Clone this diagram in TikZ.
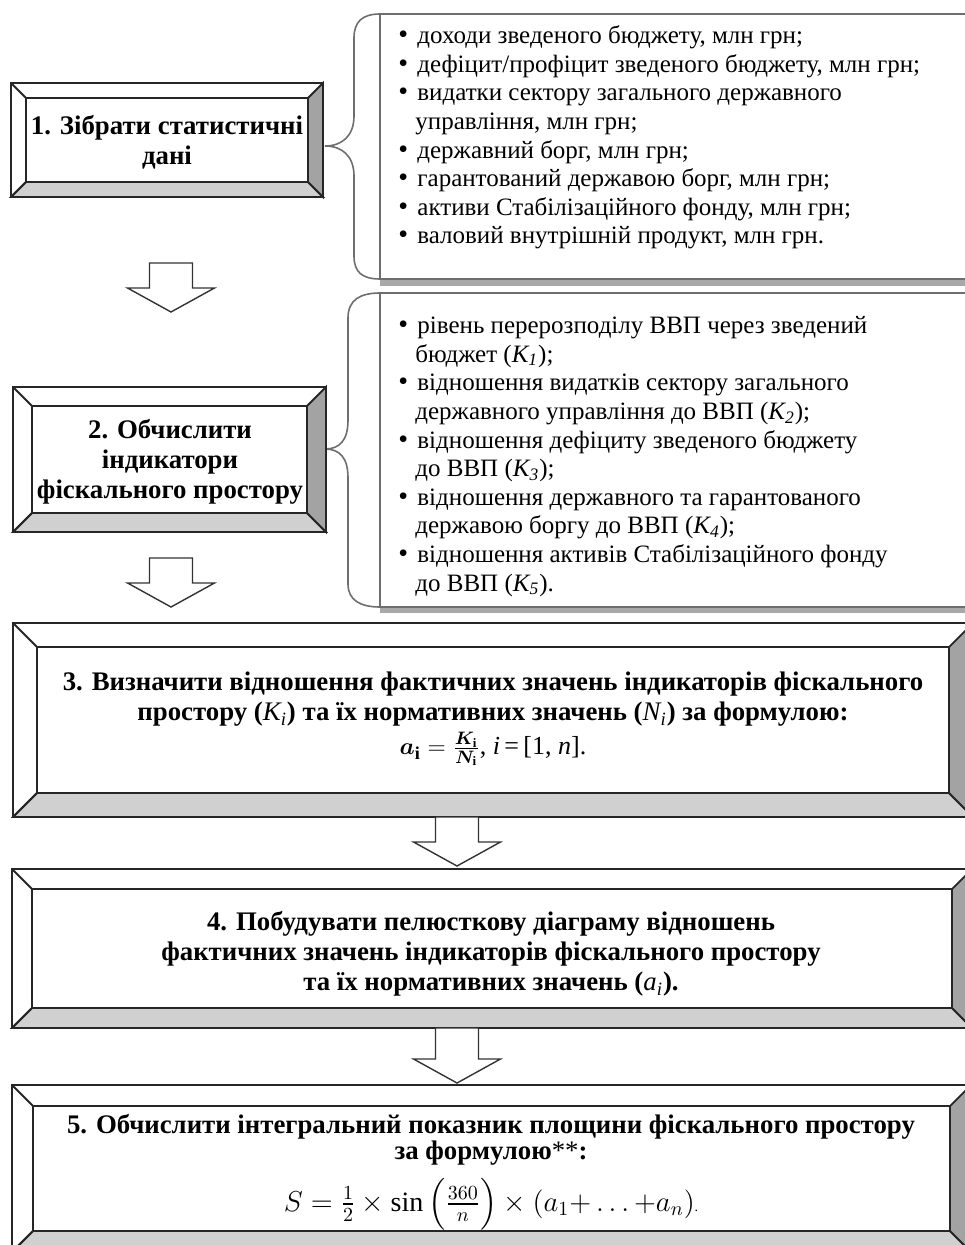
\documentclass[tikz,border=0pt]{standalone}
\usepackage{amsmath,bm}
\usepackage{fontspec}
\setmainfont{Liberation Serif}
\usetikzlibrary{calc}
\definecolor{bevellow}{HTML}{D0D0D0}
\definecolor{bevelside}{HTML}{A3A3A3}
\definecolor{framegray}{HTML}{6E6E6E}
\definecolor{shadowgray}{HTML}{A8A8A8}
\newcommand{\headfont}{\fontsize{13.4}{15}\selectfont}
\newcommand{\listfont}{\fontsize{12.5}{14.3}\selectfont}
\newcommand{\itm}{\makebox[9.5pt][l]{\fontsize{14}{14}\selectfont\textbullet}}
\newcommand{\cnt}{\hspace*{8.5pt}}
\newcommand{\bevelframe}[5]{%
  \fill[white] (#1,#2) rectangle (#3,#4);
  \filldraw[fill=bevellow,bevel edge] (#1,#4) -- (#1+#5,#4-#5) -- (#3-#5,#4-#5) -- (#3,#4) -- cycle;
  \filldraw[fill=bevelside,bevel edge] (#3,#2) -- (#3-#5,#2+#5) -- (#3-#5,#4-#5) -- (#3,#4) -- cycle;
  \draw[bevel edge] (#1,#2) -- (#1+#5,#2+#5) (#1,#4) -- (#1+#5,#4-#5);
  \draw[bevel edge] (#1+#5,#2+#5) rectangle (#3-#5,#4-#5);
  \draw[bevel edge,line width=1.3pt] (#1,#2) rectangle (#3,#4);
}
\newcommand{\hollowarrow}[2]{%
  \draw[hollow] ($(#1)+(-21.5,0)$) -- ($(#2)+(-21.5,-24)$) -- ($(#2)+(-43.5,-24)$) -- (#2)
    -- ($(#2)+(43.5,-24)$) -- ($(#2)+(21.5,-24)$) -- ($(#1)+(21.5,0)$) -- cycle;
}

\begin{document}
\begin{tikzpicture}[x=0.5pt,y=-0.5pt]
  \path[use as bounding box] (0,0) rectangle (964,1245);
  \tikzset{
    bevel edge/.style={draw=black!85,line width=0.9pt,line join=miter},
    head/.style={font=\bfseries\headfont,align=center,inner sep=0pt},
    formula/.style={font=\fontsize{14}{15}\selectfont,inner sep=0pt},
    list/.style={font=\listfont,align=left,inner sep=0pt,anchor=base west},
    listframe/.style={draw=framegray,line width=0.8pt},
    hollow/.style={draw=black!80,fill=white,line width=0.7pt,line join=miter}
  }
  \fill[shadowgray] (380,279) rectangle (980,286);
  \draw[listframe] (980,14) -- (380,14) -- (380,279) -- (980,279);
  \draw[listframe] (380,14) .. controls (362,14) and (354,22) .. (354,38) -- (354,116)
    .. controls (354,136) and (342,146) .. (325,146) .. controls (342,146) and (354,156) .. (354,176)
    -- (354,256) .. controls (354,272) and (362,279) .. (380,279);
  \fill[shadowgray] (380,607) rectangle (980,613);
  \draw[listframe] (980,293) -- (380,293) -- (380,607) -- (980,607);
  \draw[listframe] (380,293) .. controls (360,293) and (348,300) .. (348,318) -- (348,420)
    .. controls (348,440) and (340,449) .. (325,449) .. controls (340,449) and (348,458) .. (348,478)
    -- (348,584) .. controls (348,600) and (360,607) .. (380,607);

  \node[list] (datalist) at (398,244) {\itm доходи зведеного бюджету, млн грн;\\
    \itm дефіцит/профіцит зведеного бюджету, млн грн;\\
    \itm видатки сектору загального державного\\
    \cnt управління, млн грн;\\
    \itm державний борг, млн грн;\\
    \itm гарантований державою борг, млн грн;\\
    \itm активи Стабілізаційного фонду, млн грн;\\
    \itm валовий внутрішній продукт, млн грн.};
  \node[list] (indlist) at (398,591) {\itm рівень перерозподілу ВВП через зведений\\
    \cnt бюджет (\textit{K\textsubscript{1}});\\
    \itm відношення видатків сектору загального\\
    \cnt державного управління до ВВП (\textit{K\textsubscript{2}});\\
    \itm відношення дефіциту зведеного бюджету\\
    \cnt до ВВП (\textit{K\textsubscript{3}});\\
    \itm відношення державного та гарантованого\\
    \cnt державою боргу до ВВП (\textit{K\textsubscript{4}});\\
    \itm відношення активів Стабілізаційного фонду\\
    \cnt до ВВП (\textit{K\textsubscript{5}}).};

  \bevelframe{11}{83}{323}{197}{15}
  \bevelframe{13}{387}{326}{532}{19}
  \bevelframe{13}{623}{973}{817}{24}
  \bevelframe{12}{869}{972}{1028}{20}
  \bevelframe{12}{1085}{971}{1252}{21}

  \node[head] (collect) at (167,142) {1. Зібрати статистичні\\дані};
  \node[head] (compute) at (170,462) {2. Обчислити\\індикатори\\фіскального простору};
  \node[head] (ratio) at (493,719) {3. Визначити відношення фактичних значень індикаторів фіскального\\
    простору (\textnormal{\textit{K\textsubscript{i}}}) та їх нормативних значень (\textnormal{\textit{N\textsubscript{i}}}) за формулою:\\[2pt]
    {\normalfont\fontsize{13}{15}\selectfont $\boldsymbol{a}_{\mathbf{i}}=\frac{\boldsymbol{K}_{\mathbf{i}}}{\boldsymbol{N}_{\mathbf{i}}}$, \textit{i}\,=\,[1,~\textit{n}].}};
  \node[head] (radar) at (491,954) {4. Побудувати пелюсткову діаграму відношень\\
    фактичних значень індикаторів фіскального простору\\
    та їх нормативних значень (\textnormal{\textit{a\textsubscript{i}}}).};
  \node[head] (area) at (491,1140) {5. Обчислити інтегральний показник площини фіскального простору\\[-2pt]
    за формулою\textnormal{**}:};
  \node[formula] (areaeq) at (491,1204) {$S=\frac{1}{2}\times\sin\Big(\frac{360}{n}\Big)\times\left(a_1{+}\ldots{+}a_n\right)$\scriptsize.};

  \coordinate (a1top) at (171,263); \coordinate (a1tip) at (171,312);
  \coordinate (a2top) at (171,558); \coordinate (a2tip) at (171,607);
  \coordinate (a3top) at (457,817); \coordinate (a3tip) at (457,866);
  \coordinate (a4top) at (457,1028); \coordinate (a4tip) at (457,1083);
  \hollowarrow{a1top}{a1tip}
  \hollowarrow{a2top}{a2tip}
  \hollowarrow{a3top}{a3tip}
  \hollowarrow{a4top}{a4tip}
\end{tikzpicture}
\end{document}
